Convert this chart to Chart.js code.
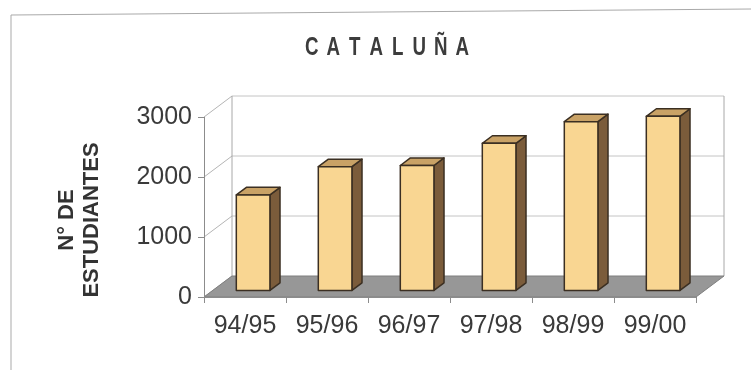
<!DOCTYPE html>
<html>
<head>
<meta charset="utf-8">
<title>Cataluña</title>
<script src="https://cdn.jsdelivr.net/npm/chart.js@4.4.1/dist/chart.umd.min.js"></script>
<style>
    body { margin: 0; background: #fff; }
    canvas { display: block; }
</style>
</head>
<body>
<canvas id="chart" width="751" height="370"></canvas>
<script>
const cursos = ['94/95', '95/96', '96/97', '97/98', '98/99', '99/00'];
const estudiantes = [1600, 2070, 2090, 2460, 2820, 2910];
const yTicks = [0, 1000, 2000, 3000];

const chartTitle = 'CATALUÑA';
const axisTitle = ['N° DE', 'ESTUDIANTES'];

// back wall offset from the front plane (3D depth)
const DEPTH_X = 28, DEPTH_Y = -21;
// bars sit between these fractions of the depth
const BAR_FRONT = 0.29, BAR_BACK = 0.65;

const FONT = '"Liberation Sans", Arial, sans-serif';

function poly(ctx, pts, fill, stroke, lw) {
    ctx.beginPath();
    ctx.moveTo(pts[0][0], pts[0][1]);
    for (let i = 1; i < pts.length; i++) ctx.lineTo(pts[i][0], pts[i][1]);
    ctx.closePath();
    if (fill) { ctx.fillStyle = fill; ctx.fill(); }
    if (stroke) { ctx.strokeStyle = stroke; ctx.lineWidth = lw || 1; ctx.stroke(); }
}

function line(ctx, x1, y1, x2, y2, color, lw) {
    ctx.beginPath();
    ctx.moveTo(x1, y1);
    ctx.lineTo(x2, y2);
    ctx.strokeStyle = color;
    ctx.lineWidth = lw || 1;
    ctx.stroke();
}

const box3d = {
    id: 'box3d',
    // walls, gridlines and floor go underneath the axes
    beforeDraw(chart) {
        const { ctx, chartArea: a, scales: { y } } = chart;
        const y0 = y.getPixelForValue(0);
        ctx.save();
        // gridlines on the side wall and the back wall
        yTicks.forEach(v => {
            const py = y.getPixelForValue(v);
            line(ctx, a.left, py, a.left + DEPTH_X, py + DEPTH_Y, '#b4b4b4');
            if (v > 0) line(ctx, a.left + DEPTH_X, py + DEPTH_Y, a.right + DEPTH_X, py + DEPTH_Y, '#c4c4c4');
        });
        // wall edges
        line(ctx, a.left + DEPTH_X, a.top + DEPTH_Y, a.left + DEPTH_X, y0 + DEPTH_Y, '#a8a8a8');
        line(ctx, a.right + DEPTH_X, a.top + DEPTH_Y, a.right + DEPTH_X, y0 + DEPTH_Y, '#a8a8a8');
        // floor
        poly(ctx, [
            [a.left, y0], [a.right, y0],
            [a.right + DEPTH_X, y0 + DEPTH_Y], [a.left + DEPTH_X, y0 + DEPTH_Y]
        ], '#979797', '#7e7e7e', 1);
        ctx.restore();
    },
    afterDatasetsDraw(chart) {
        const { ctx } = chart;
        const meta = chart.getDatasetMeta(0);
        const fx = DEPTH_X * BAR_FRONT, fy = DEPTH_Y * BAR_FRONT;
        const dx = DEPTH_X * (BAR_BACK - BAR_FRONT), dy = DEPTH_Y * (BAR_BACK - BAR_FRONT);
        const edge = '#3b2f22';
        ctx.save();
        ctx.lineJoin = 'round';
        meta.data.forEach(bar => {
            const l = bar.x - bar.width / 2 + fx;
            const r = bar.x + bar.width / 2 + fx;
            const t = bar.y + fy;
            const b = bar.base + fy;
            // side
            poly(ctx, [[r, t], [r + dx, t + dy], [r + dx, b + dy], [r, b]], '#7b5c3b', edge, 1.5);
            // top
            poly(ctx, [[l, t], [l + dx, t + dy], [r + dx, t + dy], [r, t]], '#c9a266', edge, 1.5);
            // front
            poly(ctx, [[l, t], [r, t], [r, b], [l, b]], '#f9d692', edge, 1.5);
        });
        ctx.restore();
    },
    afterDraw(chart) {
        const { ctx } = chart;
        ctx.save();
        // page frame
        line(ctx, 11, 15, 751, 9, '#a9a9a9');
        line(ctx, 11, 15, 11, 370, '#a9a9a9');

        // spaced, narrow title
        ctx.fillStyle = '#3c3c3c';
        ctx.font = 'bold 26px ' + FONT;
        ctx.textAlign = 'center';
        ctx.textBaseline = 'alphabetic';
        const chars = [...chartTitle];
        const pitch = 21.5, cx = 387;
        chars.forEach((ch, i) => {
            ctx.save();
            ctx.translate(cx + (i - (chars.length - 1) / 2) * pitch, 55);
            ctx.scale(0.72, 1);
            ctx.fillText(ch, 0, 0);
            ctx.restore();
        });

        // y axis title, two rotated lines
        ctx.fillStyle = '#333';
        ctx.font = 'bold 22px ' + FONT;
        ctx.textBaseline = 'middle';
        [67, 92].forEach((x, i) => {
            ctx.save();
            ctx.translate(x, 220);
            ctx.rotate(-Math.PI / 2);
            ctx.fillText(axisTitle[i], 0, 0);
            ctx.restore();
        });
        ctx.restore();
    }
};

new Chart(document.getElementById('chart'), {
    type: 'bar',
    data: {
        labels: cursos,
        datasets: [{
            label: 'Nº de estudiantes',
            data: estudiantes,
            backgroundColor: 'rgba(0,0,0,0)',
            borderWidth: 0,
            barPercentage: 0.41,
            categoryPercentage: 1
        }]
    },
    options: {
        responsive: false,
        animation: false,
        layout: { padding: { top: 117, right: 55, bottom: 0, left: 0 } },
        plugins: {
            legend: { display: false },
            title: { display: false },
            tooltip: { enabled: false }
        },
        scales: {
            x: {
                offset: true,
                grid: { offset: true, drawOnChartArea: false, tickLength: 6, color: '#8c8c8c' },
                border: { color: '#8c8c8c' },
                ticks: { color: '#3a3a3a', font: { family: FONT, size: 25 }, padding: 8, maxRotation: 0 },
                afterFit: s => { s.height = 73; }
            },
            y: {
                min: 0,
                max: 3000,
                afterBuildTicks: s => { s.ticks = yTicks.map(v => ({ value: v })); },
                grid: { drawOnChartArea: false, tickLength: 6, color: '#8c8c8c' },
                border: { color: '#8c8c8c' },
                ticks: { color: '#3a3a3a', font: { family: FONT, size: 25 }, padding: 6, callback: v => String(v) },
                afterFit: s => { s.width = 204; }
            }
        }
    },
    plugins: [box3d]
});
</script>
</body>
</html>
